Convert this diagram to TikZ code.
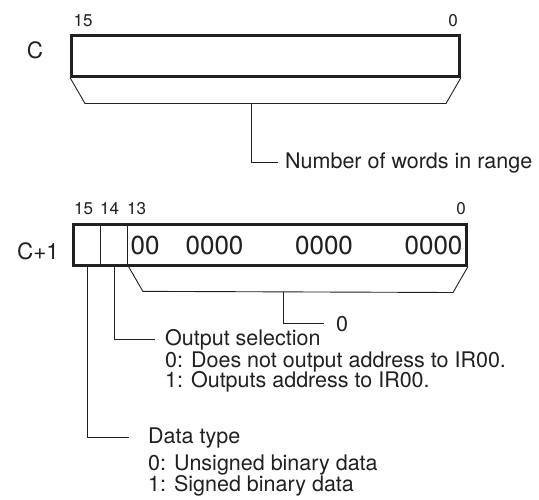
\documentclass[tikz,border=0pt]{standalone}
\usepackage{fontspec}
\setmainfont{TeX Gyre Heros}
\usepackage{tikz}
\usetikzlibrary{calc,positioning}
\usepackage{xcolor}
\definecolor{inkgray}{RGB}{35,31,32}

\begin{document}
\begin{tikzpicture}[x=1pt,y=-1pt,
  every node/.style={text=inkgray,inner sep=0pt},
  wordbox/.style={draw=inkgray,line width=3pt,minimum height=41pt},
  bitcell/.style={draw=inkgray,line width=0.7pt,minimum width=27pt,minimum height=41pt},
  bitnum/.style={font=\fontsize{17}{19}\selectfont,anchor=base},
  regname/.style={font=\fontsize{22.5}{25}\selectfont,anchor=base},
  digits/.style={font=\fontsize{26}{29}\selectfont,anchor=base},
  note/.style={font=\fontsize{21.5}{24}\selectfont,anchor=base west},
  leader/.style={draw=inkgray,line width=0.9pt}]
  \useasboundingbox (0,0) rectangle (539,499);

  % Word C
  \node[wordbox,minimum width=388pt] (wordC) at (265.5,55.5) {};
  \node[regname] (nameC) at (35,58) {C};
  \node[bitnum] (topBitHi) at (83,26) {15};
  \node[bitnum] (topBitLo) at (453,26) {0};
  \draw[leader] (wordC.south west) -- ($(wordC.south west)+(15,26)$)
    -- ($(wordC.south east)+(-15,26)$) -- (wordC.south east);
  \coordinate (rangeMid) at (251,104);
  \node[note] (lblRange) at (285,168) {Number of words in range};
  \draw[leader] (rangeMid) |- ([xshift=-7pt]lblRange.west);

  % Word C+1
  \node[bitcell] (cell15) at (87,244.5) {};
  \node[bitcell] (cell14) at (114,244.5) {};
  \node[wordbox,minimum width=393pt] (wordCa) at (270,244.5) {};
  \node[regname] (nameCa) at (38,259) {C+1};
  \foreach \xb/\nb in {83.5/15,109.5/14,136.5/13,461/0}
    \node[bitnum] (bit\nb) at (\xb,214) {\nb};
  \foreach \xg/\dg [count=\k] in {145/00,214.5/0000,324/0000,433.5/0000}
    \node[digits] (grp\k) at (\xg,254) {\dg};
  \draw[leader] (cell14.south east) -- ($(cell14.south east)+(15,26)$)
    -- ($(wordCa.south east)+(-15,26)$) -- (wordCa.south east);
  \coordinate (zeroMid) at (283,292);
  \node[note] (lblZero) at (336,331) {0};
  \draw[leader] (zeroMid) |- ([xshift=-12pt]lblZero.west);

  % Output selection
  \node[note] (lblOutput) at (165,345) {Output selection};
  \node[note] (lblOutputA) at (165,367) {0: Does not output address to IR00.};
  \node[note] (lblOutputB) at (165,387) {1: Outputs address to IR00.};
  \draw[leader] (cell14.south) |- ([xshift=-10pt]lblOutput.west);

  % Data type
  \node[note] (lblType) at (148,443) {Data type};
  \node[note] (lblTypeA) at (148,470) {0: Unsigned binary data};
  \node[note] (lblTypeB) at (148,491) {1: Signed binary data};
  \draw[leader] (cell15.south) |- ([xshift=-19pt]lblType.west);
\end{tikzpicture}
\end{document}
